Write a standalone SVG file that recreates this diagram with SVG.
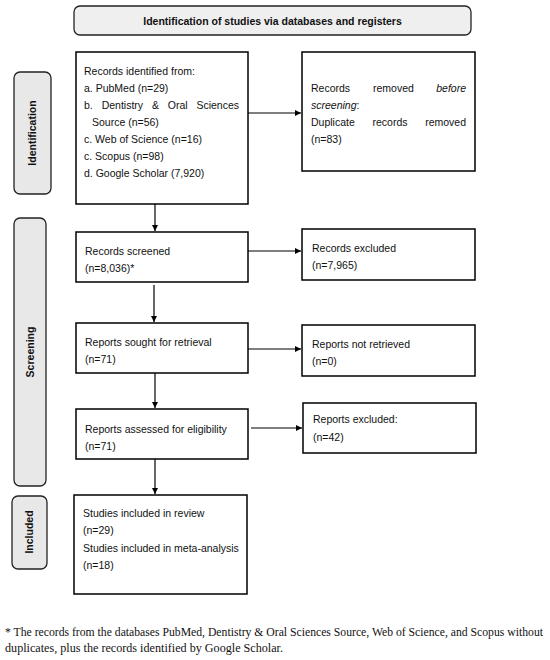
<svg xmlns="http://www.w3.org/2000/svg" width="550" height="660" viewBox="0 0 550 660">
<defs>
<style>
.box{fill:#fff;stroke:#000;stroke-width:1.5}
.phase{fill:#e8e8e8;stroke:#222;stroke-width:1.3}
.t{font-family:"Liberation Sans",Arial,sans-serif;font-size:10.5px;fill:#111}
.b{font-family:"Liberation Sans",Arial,sans-serif;font-size:10.5px;font-weight:bold;fill:#111}
.fn{font-family:"Liberation Serif","Times New Roman",serif;font-size:11.5px;fill:#111}
.c{stroke:#000;stroke-width:1.2;fill:none;marker-end:url(#ah)}
</style>
<marker id="ah" viewBox="0 0 10 10" refX="10" refY="5" markerWidth="6" markerHeight="6" markerUnits="userSpaceOnUse" orient="auto">
<path d="M0,0 L10,5 L0,10 z" fill="#000"/>
</marker>
</defs>
<rect width="550" height="660" fill="#fff"/>

<g id="title">
<rect x="74" y="6" width="397" height="29" rx="6" fill="#efefef" stroke="#222" stroke-width="1.3"/>
<text class="b" x="272.5" y="24.5" text-anchor="middle">Identification of studies via databases and registers</text>
</g>

<g id="phase-identification">
<rect class="phase" x="14" y="72" width="37" height="122" rx="6"/>
<text class="b" transform="translate(36,133) rotate(-90)" text-anchor="middle">Identification</text>
</g>
<g id="phase-screening">
<rect class="phase" x="14" y="218" width="32" height="268" rx="6"/>
<text class="b" transform="translate(34,352) rotate(-90)" text-anchor="middle">Screening</text>
</g>
<g id="phase-included">
<rect class="phase" x="12" y="496" width="35" height="73" rx="6"/>
<text class="b" transform="translate(33,532) rotate(-90)" text-anchor="middle">Included</text>
</g>

<g id="records-identified">
<rect class="box" x="76" y="52" width="172" height="152"/>
<text class="t" x="84" y="75">Records identified from:</text>
<text class="t" x="84" y="92">a. PubMed (n=29)</text>
<text class="t" x="84" y="109">b.</text>
<text class="t" x="101.7" y="109">Dentistry</text>
<text class="t" x="151.9" y="109">&amp;</text>
<text class="t" x="167.8" y="109">Oral</text>
<text class="t" x="239" y="109" text-anchor="end">Sciences</text>
<text class="t" x="92" y="126">Source (n=56)</text>
<text class="t" x="84" y="143">c. Web of Science (n=16)</text>
<text class="t" x="84" y="160">c. Scopus (n=98)</text>
<text class="t" x="84" y="177">d. Google Scholar (7,920)</text>
</g>

<g id="records-removed">
<rect class="box" x="302" y="52" width="173" height="119"/>
<text class="t" x="311" y="92">Records</text>
<text class="t" x="373" y="92">removed</text>
<text class="t" x="466" y="92" text-anchor="end" font-style="italic">before</text>
<text class="t" x="311" y="109"><tspan font-style="italic">screening</tspan>:</text>
<text class="t" x="311" y="126">Duplicate</text>
<text class="t" x="372.5" y="126">records</text>
<text class="t" x="466" y="126" text-anchor="end">removed</text>
<text class="t" x="311" y="143">(n=83)</text>
</g>

<g id="records-screened">
<rect class="box" x="76" y="232" width="172" height="50"/>
<text class="t" x="85" y="255">Records screened</text>
<text class="t" x="85" y="272">(n=8,036)*</text>
</g>

<g id="records-excluded">
<rect class="box" x="302" y="229" width="173" height="51"/>
<text class="t" x="312" y="252">Records excluded</text>
<text class="t" x="312" y="269">(n=7,965)</text>
</g>

<g id="reports-sought">
<rect class="box" x="76" y="323" width="172" height="50"/>
<text class="t" x="85" y="346">Reports sought for retrieval</text>
<text class="t" x="85" y="363">(n=71)</text>
</g>

<g id="reports-not-retrieved">
<rect class="box" x="302" y="325" width="173" height="51"/>
<text class="t" x="312" y="348">Reports not retrieved</text>
<text class="t" x="312" y="365">(n=0)</text>
</g>

<g id="reports-assessed">
<rect class="box" x="76" y="409" width="172" height="50"/>
<text class="t" x="85" y="433">Reports assessed for eligibility</text>
<text class="t" x="85" y="450">(n=71)</text>
</g>

<g id="reports-excluded">
<rect class="box" x="303" y="403" width="173" height="50"/>
<text class="t" x="313" y="423">Reports excluded:</text>
<text class="t" x="313" y="441">(n=42)</text>
</g>

<g id="studies-included">
<rect class="box" x="74" y="495" width="173" height="99"/>
<text class="t" x="83" y="517">Studies included in review</text>
<text class="t" x="83" y="534">(n=29)</text>
<text class="t" x="83" y="552">Studies included in meta-analysis</text>
<text class="t" x="83" y="569">(n=18)</text>
</g>

<g id="connectors">
<line class="c" x1="248" y1="113" x2="301" y2="113"/>
<line class="c" x1="248" y1="251" x2="301" y2="251"/>
<line class="c" x1="248" y1="349" x2="301" y2="349"/>
<line class="c" x1="251" y1="428" x2="302" y2="428"/>
<line class="c" x1="155" y1="204" x2="155" y2="231"/>
<line class="c" x1="154" y1="285" x2="154" y2="322"/>
<line class="c" x1="155" y1="373" x2="155" y2="408"/>
<line class="c" x1="155" y1="459" x2="155" y2="494"/>
</g>

<g id="footnote">
<text class="fn" x="5" y="636" textLength="538" lengthAdjust="spacingAndGlyphs">* The records from the databases PubMed, Dentistry &amp; Oral Sciences Source, Web of Science, and Scopus without</text>
<text class="fn" x="5" y="652" textLength="278" lengthAdjust="spacingAndGlyphs">duplicates, plus the records identified by Google Scholar.</text>
</g>
</svg>
